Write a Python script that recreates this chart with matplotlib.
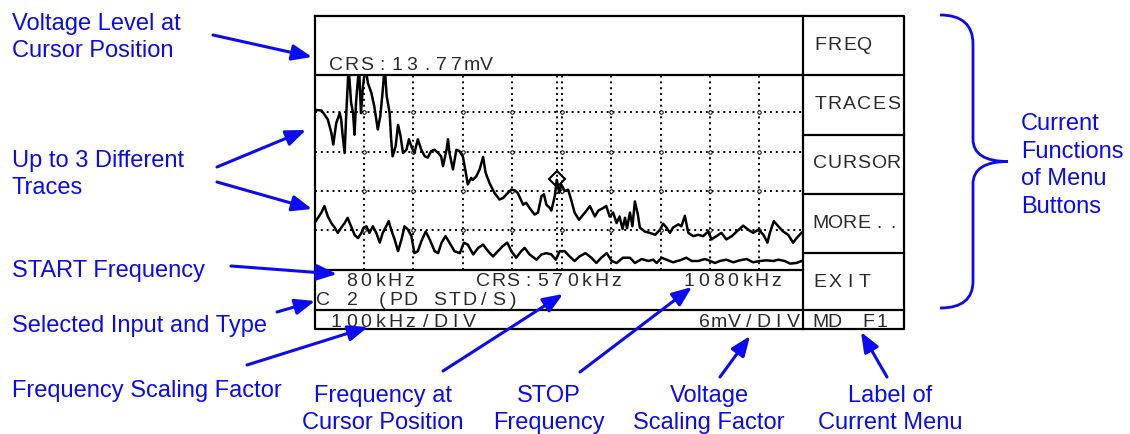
import numpy as np
import matplotlib
matplotlib.use("Agg")
import matplotlib.pyplot as plt
from matplotlib.path import Path
from matplotlib.patches import PathPatch

plt.rcParams['font.family'] = ['Liberation Sans', 'DejaVu Sans']

# instrument settings shown on the screen
start_khz = 80
stop_khz = 1080
cursor_khz = 570
cursor_mv = 13.77
khz_per_div = 100
mv_per_div = 6
menu_buttons = ["FREQ", "TRACES", "CURSOR", "MORE..", "EXIT"]

# trace 1 (upper, noisy at low frequency), mV
trace1_khz = [80, 94, 100, 107, 114, 118, 124, 131, 134, 137, 141, 144, 149, 154, 158, 161,
              164, 170, 174, 178, 183, 188, 195, 201, 208, 213, 217, 222, 226, 232, 235, 238,
              244, 249, 254, 259, 266, 271, 276, 282, 289, 296, 303, 309, 316, 323, 330, 336,
              340, 347, 350, 353, 360, 367, 373, 380, 386, 390, 397, 400, 407, 414, 421, 426,
              434, 444, 454, 461, 471, 478, 485, 491, 502, 508, 515, 525, 532, 539, 544, 549,
              556, 559, 566, 570, 575, 579, 586, 593, 600, 606, 615, 627, 637, 647, 654, 664,
              670, 677, 684, 691, 697, 703, 708, 712, 718, 723, 728, 734, 738, 748, 758, 769,
              779, 785, 792, 799, 805, 816, 822, 829, 836, 846, 856, 866, 876, 883, 893, 903,
              913, 924, 934, 947, 957, 967, 978, 988, 996, 1001, 1009, 1018, 1028, 1038, 1048,
              1055, 1065]
trace1_mv = [24.4, 24.3, 23.7, 22.9, 20.9, 19.1, 22.4, 23.9, 22.9, 20.4, 17.8, 23.4, 31, 25.5, 23.9, 20.6,
             25.5, 31, 23.9, 28.0, 31, 28.5, 27.0, 24.9, 21.4, 23.4, 26.5, 31, 26.5, 23.9, 19.9, 17.3,
             18.8, 22.1, 20.4, 17.8, 18.3, 19.9, 18.8, 17.8, 19.9, 18.3, 17.3, 17.1, 18.1, 18.3, 17.8, 17.3,
             15.8, 18.3, 19.9, 17.8, 15.3, 18.3, 18.1, 17.3, 14.8, 13.0, 14.0, 13.7, 14.2, 15.3, 17.2, 14.8,
             13.2, 11.7, 10.7, 10.9, 11.7, 12.2, 12.1, 11.7, 9.9, 10.2, 9.4, 8.4, 8.7, 11.2, 11.5, 9.9,
             9.4, 9.0, 11.2, 13.7, 11.7, 13.0, 12.0, 12.2, 10.4, 8.7, 7.6, 8.7, 9.7, 8.1, 9.0, 9.4,
             9.7, 8.1, 8.7, 7.1, 8.1, 6.2, 7.9, 6.3, 8.7, 6.6, 10.4, 8.4, 6.4, 5.8, 5.6, 5.3,
             6.1, 7.0, 6.4, 5.6, 6.4, 6.9, 6.6, 8.2, 5.6, 5.1, 5.3, 5.1, 5.8, 4.6, 5.1, 5.6,
             4.6, 5.1, 5.8, 6.7, 6.1, 5.6, 6.1, 5.3, 4.1, 5.6, 7.4, 6.6, 5.8, 5.3, 4.1,
             4.8, 5.6]

# trace 2 (lower)
trace2_khz = [80, 87, 94, 100, 107, 114, 121, 127, 134, 141, 147, 154, 161, 168, 175, 179,
              185, 191, 198, 205, 212, 218, 225, 230, 235, 242, 249, 256, 262, 269, 276, 282,
              289, 296, 305, 313, 323, 330, 337, 345, 353, 363, 374, 382, 390, 401, 411, 421,
              431, 441, 451, 461, 470, 478, 488, 498, 505, 515, 529, 539, 549, 559, 568, 576,
              586, 596, 606, 616, 628, 640, 650, 660, 671, 681, 691, 704, 718, 728, 742, 755,
              765, 772, 782, 792, 805, 819, 832, 843, 856, 870, 880, 890, 900, 913, 927, 940,
              954, 967, 981, 994, 1008, 1018, 1031, 1042, 1055, 1065]
trace2_mv = [7.1, 7.9, 8.7, 9.7, 8.1, 7.1, 6.4, 5.6, 6.4, 7.1, 7.9, 6.6, 5.3, 4.8, 5.6, 6.4,
             6.6, 5.6, 6.6, 5.6, 4.1, 5.6, 6.6, 7.4, 6.1, 4.6, 2.8, 4.6, 6.6, 6.1, 5.1, 2.5,
             2.8, 4.3, 5.8, 4.6, 2.8, 2.5, 4.1, 5.1, 4.1, 2.8, 2.5, 4.1, 3.8, 2.3, 3.3, 3.8,
             2.8, 2.0, 2.8, 3.6, 4.1, 2.8, 1.8, 2.8, 3.3, 2.3, 1.5, 2.3, 2.5, 2.3, 1.5, 2.8,
             2.8, 2.0, 1.3, 2.0, 2.5, 1.8, 1.0, 1.8, 2.5, 1.3, 1.0, 1.8, 1.8, 1.0, 1.6, 1.3,
             1.5, 1.0, 1.8, 1.5, 1.1, 1.4, 1.8, 1.3, 1.3, 1.6, 1.3, 1.0, 1.3, 1.5, 1.1, 1.4,
             1.6, 1.1, 1.3, 1.4, 1.3, 1.5, 1.3, 0.9, 1.0, 1.3]

BLUE = '#0a0af5'
SCREEN_TXT = '#2a2a2a'

W, H = 1130, 435
fig = plt.figure(figsize=(W / 100, H / 100), dpi=100)

# overlay in pixel coordinates (y down)
ax = fig.add_axes([0, 0, 1, 1], zorder=2)
ax.set_xlim(0, W)
ax.set_ylim(H, 0)
ax.axis('off')
ax.patch.set_alpha(0)

# screen geometry (pixels)
left, right, menu_x = 314.5, 904, 803
top, header_y, graph_bottom, row_y, bottom = 17.3, 75.5, 270.5, 310.5, 329.5

# graph area
gx = fig.add_axes([left / W, 1 - graph_bottom / H, (menu_x - left) / W, (graph_bottom - header_y) / H], zorder=1)
gx.set_xlim(start_khz, start_khz + 988)
gx.set_ylim(0, 29.8)
xt = np.arange(start_khz + khz_per_div, start_khz + 988, khz_per_div)
yt = np.arange(mv_per_div, 29, mv_per_div)
gx.set_xticks(xt)
gx.set_yticks(yt)
gx.grid(True, color='k', ls=(0, (1, 2)), lw=1.4)
gx.tick_params(length=0, labelbottom=False, labelleft=False)
for s in gx.spines.values():
    s.set_visible(False)
gxx, gyy = np.meshgrid(xt, yt)
gx.plot(gxx.ravel(), gyy.ravel(), ls='none', marker='o', ms=2.5, mfc='white', mec='k', mew=0.7)
gx.axvline(cursor_khz, color='k', ls=(0, (1, 2)), lw=1.4)

gx.plot(trace1_khz, trace1_mv, color='k', lw=1.8)
gx.plot(trace2_khz, trace2_mv, color='k', lw=1.8)
gx.plot([cursor_khz], [cursor_mv], marker='D', ms=8, mfc='none', mec='k', mew=1.5)

# screen frame
lw = 1.6
ax.plot([left, right, right, left, left], [top, top, bottom, bottom, top], color='k', lw=lw)
ax.plot([menu_x, menu_x], [top, bottom], color='k', lw=lw)
ax.plot([left, right], [header_y, header_y], color='k', lw=lw)
ax.plot([left, menu_x], [graph_bottom, graph_bottom], color='k', lw=lw)
ax.plot([left, right], [row_y, row_y], color='k', lw=lw)
for yb in [136, 195, 254]:
    ax.plot([menu_x, right], [yb, yb], color='k', lw=lw)


def screen_text(x0, y, s, pitch=14.6):
    # fixed pitch text like the instrument's display font
    for i, ch in enumerate(s):
        if ch != ' ':
            ax.text(x0 + pitch * (i + 0.5), y, ch, ha='center', va='baseline',
                    fontsize=14, color=SCREEN_TXT)


screen_text(329, 70, f"CRS:{cursor_mv:.2f}mV", 15)
screen_text(344, 286, f"{start_khz}kHz", 14.5)
screen_text(476, 286, f"CRS:{cursor_khz}kHz", 14.8)
screen_text(682, 286, f"{stop_khz}kHz", 14.5)
screen_text(316, 305, "C 2 (PD STD/S)", 14.6)
screen_text(329, 326.7, f"{khz_per_div}kHz/DIV", 14.8)
screen_text(697, 326.7, f"{mv_per_div}mV/DIV", 14.8)
for i, name in enumerate(menu_buttons):
    screen_text(813, 50 + i * 59.2, name, 14.6)
screen_text(813, 326.7, "MD", 14)
screen_text(861, 326.7, "F1", 13.7)

# blue labels
lab = dict(fontsize=17, color=BLUE, va='baseline')
ax.text(12, 30, "Voltage Level at", **lab)
ax.text(12, 56.7, "Cursor Position", **lab)
ax.text(12, 166.7, "Up to 3 Different", **lab)
ax.text(12, 194.3, "Traces", **lab)
ax.text(12, 276.7, "START Frequency", **lab)
ax.text(12, 331.7, "Selected Input and Type", **lab)
ax.text(12, 396.7, "Frequency Scaling Factor", **lab)
for i, line in enumerate(["Current", "Functions", "of Menu", "Buttons"]):
    ax.text(1021, 130 + i * 27.7, line, **lab)
for xc, l1, l2 in [(383, "Frequency at", "Cursor Position"), (549, "STOP", "Frequency"),
                   (709, "Voltage", "Scaling Factor"), (890, "Label of", "Current Menu")]:
    ax.text(xc, 402, l1, ha='center', **lab)
    ax.text(xc, 429, l2, ha='center', **lab)

# arrows (tail -> tip)
arrows = [((213, 36), (312, 58)), ((217, 168), (306, 131)), ((217, 183), (312, 210)),
          ((231, 267), (337, 275)), ((277, 313), (315, 302)), ((247, 366), (368, 328)),
          ((443, 372), (563, 295)), ((580, 373), (692, 288)), ((720, 378), (750, 337)),
          ((887, 378), (861, 333))]
for tail, tip in arrows:
    ax.annotate('', xy=tip, xytext=tail,
                arrowprops=dict(arrowstyle='-|>,head_length=0.75,head_width=0.3', color=BLUE,
                                lw=2.2, shrinkA=0, shrinkB=0, mutation_scale=16))

# curly brace for the menu buttons
verts = [(940, 16), (962, 16), (973, 26), (973, 45),
         (973, 140),
         (973, 155), (985, 162.5), (1008, 162.5),
         (985, 162.5), (973, 170), (973, 185),
         (973, 282),
         (973, 300), (962, 309), (940, 309)]
codes = [Path.MOVETO, Path.CURVE4, Path.CURVE4, Path.CURVE4,
         Path.LINETO,
         Path.CURVE4, Path.CURVE4, Path.CURVE4,
         Path.CURVE4, Path.CURVE4, Path.CURVE4,
         Path.LINETO,
         Path.CURVE4, Path.CURVE4, Path.CURVE4]
ax.add_patch(PathPatch(Path(verts, codes), fill=False, edgecolor=BLUE, lw=2))

fig.savefig("out.png", dpi=100)
